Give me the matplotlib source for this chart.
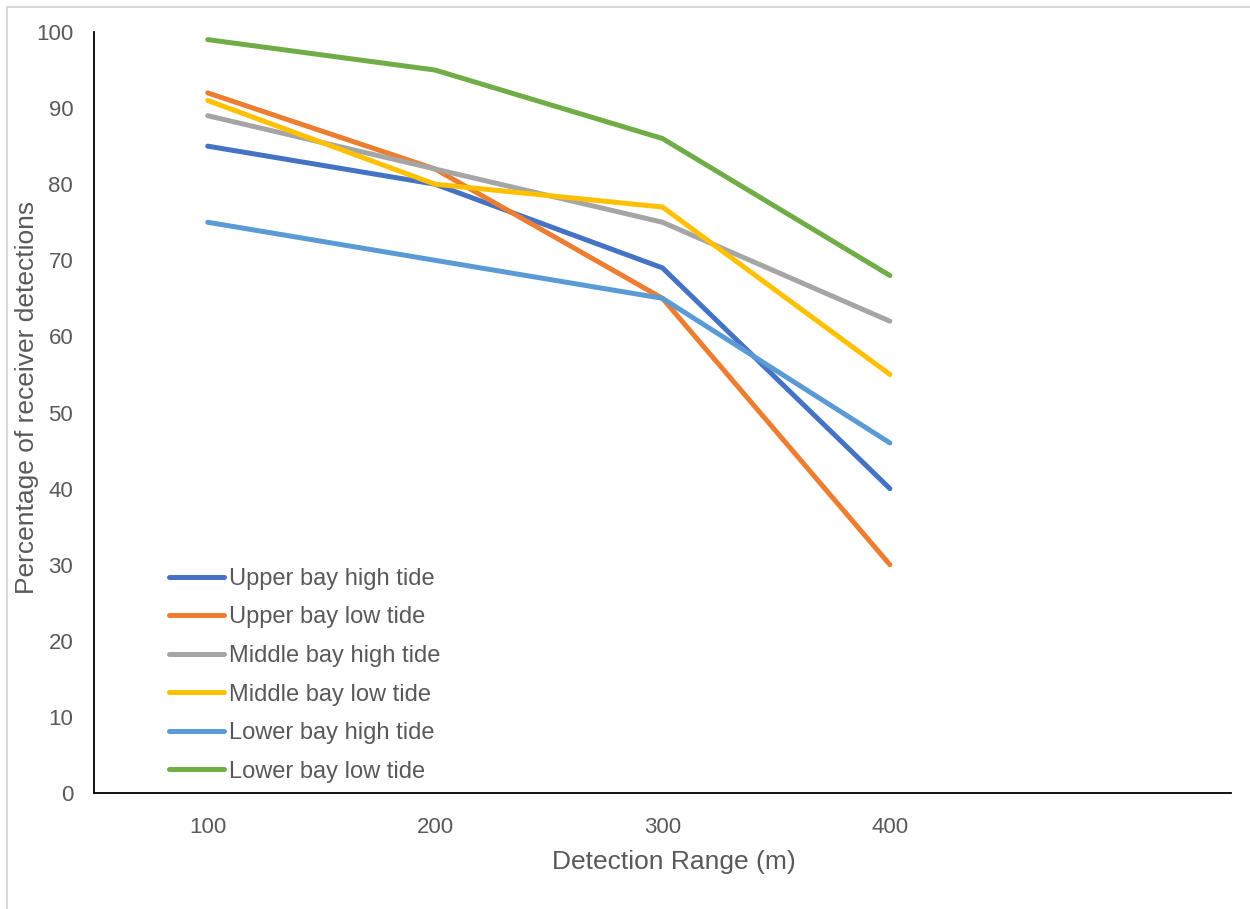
import matplotlib
matplotlib.use("Agg")
import matplotlib.pyplot as plt
from matplotlib.patches import Rectangle

plt.rcParams['font.family'] = ['Liberation Sans', 'DejaVu Sans']

categories = ['100', '200', '300', '400']
series_names = ['Upper bay high tide', 'Upper bay low tide', 'Middle bay high tide',
                'Middle bay low tide', 'Lower bay high tide', 'Lower bay low tide']
upper_high = [85, 80, 69, 40]
upper_low = [92, 82, 65, 30]
middle_high = [89, 82, 75, 62]
middle_low = [91, 80, 77, 55]
lower_high = [75, 70, 65, 46]
lower_low = [99, 95, 86, 68]
colors = ['#4472C4', '#ED7D31', '#A5A5A5', '#FFC000', '#5B9BD5', '#70AD47']
y_ticks = [0, 10, 20, 30, 40, 50, 60, 70, 80, 90, 100]

series = [upper_high, upper_low, middle_high, middle_low, lower_high, lower_low]

fig = plt.figure(figsize=(12.5, 9.09), dpi=100)
ax = fig.add_axes([0.0752, 0.1276, 0.9096, 0.8372])

x = list(range(len(categories)))
for name, vals, c in zip(series_names, series, colors):
    ax.plot(x, vals, color=c, linewidth=3.6, solid_capstyle='round',
            solid_joinstyle='round', label=name)

ax.set_xlim(-0.5, 4.5)
ax.set_ylim(0, 100)
ax.set_xticks(x)
ax.set_xticklabels(categories)
ax.set_yticks(y_ticks)
ax.tick_params(axis='both', length=0, labelsize=16, labelcolor='#595959')
ax.tick_params(axis='y', pad=15)
ax.tick_params(axis='x', pad=17)
for s in ['top', 'right']:
    ax.spines[s].set_visible(False)
for s in ['left', 'bottom']:
    ax.spines[s].set_color('black')
    ax.spines[s].set_linewidth(1.3)

ax.set_xlabel('Detection Range (m)', fontsize=19, color='#595959', va='center')
ax.xaxis.set_label_coords(0.51, -0.0907)
ax.set_ylabel('Percentage of receiver detections', fontsize=19, color='#595959', va='center')
ax.yaxis.set_label_coords(-0.0589, 0.52)

leg = ax.legend(loc='lower left', bbox_to_anchor=(0.0516, -0.008), frameon=False,
                fontsize=17, labelcolor='#595959', handlelength=2.33,
                handletextpad=0.21, labelspacing=0.70, borderpad=0.2)

fig.patches.append(Rectangle((7 / 1250, -0.1), 1.2, 1 - 7 / 909 + 0.1,
                             transform=fig.transFigure, fill=False,
                             edgecolor='#D9D9D9', linewidth=1.5))

fig.savefig('out.png', dpi=100, facecolor='white')
